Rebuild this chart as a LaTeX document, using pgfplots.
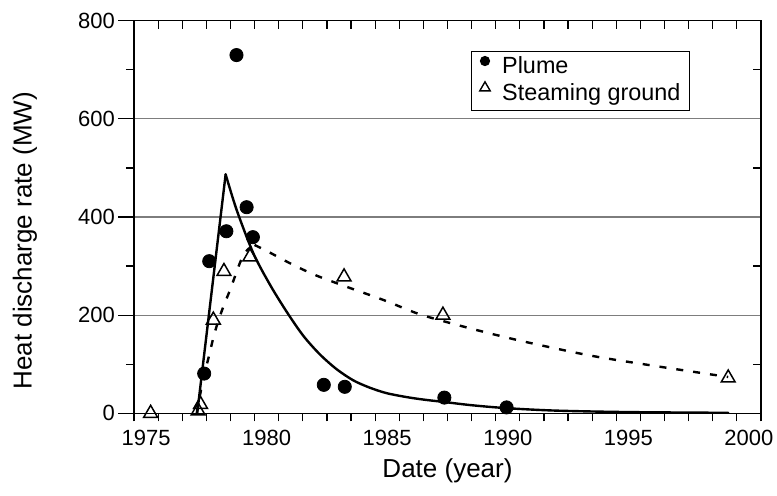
\documentclass[border=0pt]{standalone}
\usepackage{pgfplots}
\pgfplotsset{compat=1.18}
\usepackage{fontspec}
\setmainfont{Liberation Sans}
\definecolor{gridgray}{RGB}{125,125,125}
\begin{document}
\begin{tikzpicture}
\useasboundingbox (-67pt,-40.85pt) rectangle (321.5pt,206.65pt);
\begin{axis}[
 at={(0,0)}, anchor=south west,
 scale only axis, width=313.5pt, height=196.3pt,
 xmin=1974.5, xmax=2000.5, ymin=0, ymax=800,
 axis line style={line width=0.6pt},
 xtick={1975,1980,...,2000},
 minor xtick={1974.5,1975.5,...,2000.5},
 ytick={0,200,...,800},
 minor ytick={100,300,...,700},
 xtick pos=left, ytick pos=left,
 tick align=outside,
 major tick length=8pt, minor tick length=4pt,
 tick style={black, line width=0.6pt},
 major x tick style={draw=none},
 ymajorgrids, grid style={gridgray, line width=0.6pt},
 /pgf/number format/assume math mode=true,
 /pgf/number format/1000 sep={},
 tick label style={font=\fontsize{11}{13}\selectfont},
 x tick label style={yshift=3pt},
 y tick label style={xshift=2pt},
 xlabel={Date (year)}, ylabel={Heat discharge rate (MW)},
 every axis x label/.style={at={(axis description cs:0.5,-0.147)}, anchor=center, font=\fontsize{13}{15}\selectfont},
 every axis y label/.style={at={(axis description cs:-0.1738,0.44)}, anchor=center, rotate=90, font=\fontsize{13}{15}\selectfont},
 legend image code/.code={\draw[#1] plot coordinates {(0cm,0.32em)};},
 legend style={at={(axis description cs:0.537,0.9236)}, anchor=north west,
   draw=black, line width=0.5pt, font=\fontsize{11.7}{14}\selectfont,
   inner xsep=4.3pt, inner ysep=2.6pt, row sep=1.7pt, column sep=6pt,
   nodes={inner xsep=0pt, inner ysep=0pt, text height=8.5pt, text depth=2.5pt},
   cells={anchor=west}},
]
% solid fit: rise
\addplot[black, line width=1.2pt, line cap=round, forget plot] coordinates {(1977.12,0) (1978.30,487)};
% solid fit: decay
\addplot[black, line width=1.2pt, line cap=round, smooth, forget plot] coordinates {
(1978.30,487) (1978.76,414) (1979.45,326) (1980.14,262) (1980.83,207) (1981.52,158)
(1982.21,120) (1982.90,90) (1983.60,67) (1984.29,52) (1984.98,41) (1985.81,33)
(1986.5,28) (1987.37,23) (1988.5,16.5) (1989.95,10.5) (1992,5.5) (1995,2.5) (1999.14,1)};
% dashed fit (steaming ground): rise
\addplot[black, line width=1.2pt, dash pattern=on 3.5pt off 5pt, smooth, forget plot] coordinates {
(1977.10,0) (1977.35,65) (1977.62,119) (1977.85,165) (1978.15,210) (1978.48,251)
(1978.71,282) (1978.94,312) (1979.2,333) (1979.5,343)};
% dashed fit: decay
\addplot[black, line width=1.2pt, dash pattern=on 3.5pt off 5pt, smooth, forget plot] coordinates {
(1979.5,343) (1980.0,331) (1981,305) (1982,282) (1983.25,259) (1984.84,231) (1986.22,204)
(1987.31,188) (1989,166) (1990.78,145) (1993.5,117) (1996.3,95) (1999.14,74)};
% plume
\addplot[only marks, mark=*, mark size=3.3pt, black,
  every legend image post/.style={mark size=2.3pt}]
 coordinates {(1977.41,81) (1977.62,310) (1978.33,371) (1978.75,730) (1979.17,420)
 (1979.43,359) (1982.37,58) (1983.24,54) (1987.37,32) (1989.95,12)};
\addlegendentry{Plume}
% steaming ground
\addplot[only marks, mark=triangle, mark size=4pt, black, mark options={line width=0.75pt},
  every legend image post/.style={mark size=3pt, mark options={line width=0.7pt}}]
 coordinates {(1975.19,0) (1977.16,5) (1977.26,18) (1977.79,190) (1978.23,289)
 (1979.31,319) (1983.21,278) (1987.31,200) (1999.14,72)};
\addlegendentry{Steaming ground}
\end{axis}
\begin{axis}[
 at={(0,0)}, anchor=south west,
 scale only axis, width=313.5pt, height=196.3pt,
 xmin=1974.5, xmax=2000.5, ymin=0, ymax=800,
 axis line style={draw=none},
 xtick={1974.5,1975.5,...,2000.5}, xticklabels={},
 ytick={100,300,...,700}, yticklabels={},
 xtick pos=right, ytick pos=right,
 tick align=inside, major tick length=4pt,
 tick style={black, line width=0.6pt},
]
\end{axis}
\end{tikzpicture}
\end{document}
